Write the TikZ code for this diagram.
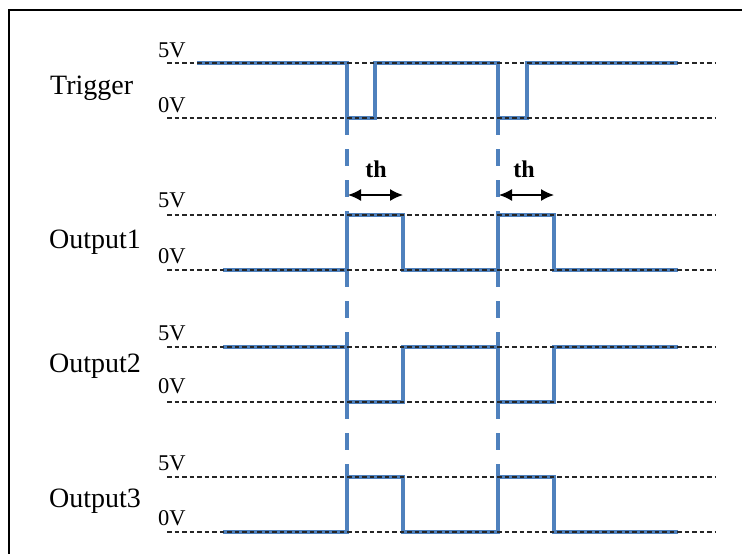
\documentclass[tikz,border=0pt]{standalone}
\usepackage{fontspec}
\setmainfont{Liberation Serif}
\usetikzlibrary{arrows.meta}
\definecolor{wave}{RGB}{79,129,189}
\begin{document}
\begin{tikzpicture}[x=1pt,y=-1pt,
 lvl/.style={black!85, line width=1.1pt, dash pattern=on 4.5pt off 3pt},
 sig/.style={wave, line width=3.2pt, line join=miter},
 guide/.style={wave, line width=3.2pt, dash pattern=on 17pt off 14pt},
 siglabel/.style={anchor=base west, inner sep=0pt, font=\fontsize{28}{30}\selectfont},
 volt/.style={anchor=base west, inner sep=0pt, font=\fontsize{22.5}{24}\selectfont},
 thl/.style={anchor=base, inner sep=0pt, font=\bfseries\fontsize{24}{26}\selectfont},
 spanarrow/.style={{Latex[length=13pt,width=12pt]}-{Latex[length=13pt,width=12pt]}, line width=1.5pt},
 borderline/.style={black, line width=1.8pt}]
\useasboundingbox (0,0) rectangle (742,554);
% frame
\coordinate (fbl) at (9,554);
\coordinate (ftl) at (9,10);
\coordinate (ftr) at (742,10);
\draw[borderline] (fbl) -- (ftl) -- (ftr);
% guides
\foreach \x in {347,498}{
  \draw[guide] (\x,118) -- (\x,215);
  \draw[guide] (\x,270) -- (\x,347);
  \draw[guide] (\x,402) -- (\x,477);
}
% waveforms
\draw[sig] (197,63) -- (347,63) -- (347,118) -- (375,118) -- (375,63) -- (498,63) -- (498,118) -- (527,118) -- (527,63) -- (678,63);
\draw[sig] (223,270) -- (347,270) -- (347,215) -- (403,215) -- (403,270) -- (498,270) -- (498,215) -- (554,215) -- (554,270) -- (678,270);
\draw[sig] (223,347) -- (347,347) -- (347,402) -- (403,402) -- (403,347) -- (498,347) -- (498,402) -- (554,402) -- (554,347) -- (678,347);
\draw[sig] (223,532) -- (347,532) -- (347,477) -- (403,477) -- (403,532) -- (498,532) -- (498,477) -- (554,477) -- (554,532) -- (678,532);
% level lines
\foreach \y in {63,118,215,270,347,402,477,532}{
  \draw[lvl] (167,\y) -- (715,\y);
}
% th arrows
\coordinate (a1) at (348,195); \coordinate (a2) at (403,195);
\coordinate (b1) at (499,195); \coordinate (b2) at (554,195);
\draw[spanarrow] (a1) -- (a2);
\draw[spanarrow] (b1) -- (b2);
\node[thl] (th1) at (376,177) {th};
\node[thl] (th2) at (524,177) {th};
% labels
\node[siglabel] (trig) at (50,94) {Trigger};
\node[siglabel] (out1) at (49,248) {Output1};
\node[siglabel] (out2) at (49,372) {Output2};
\node[siglabel] (out3) at (49,507) {Output3};
\node[volt] (t5) at (158,57) {5V};
\node[volt] (t0) at (158,112) {0V};
\node[volt] (o15) at (158,207) {5V};
\node[volt] (o10) at (158,263) {0V};
\node[volt] (o25) at (158,340) {5V};
\node[volt] (o20) at (158,393) {0V};
\node[volt] (o35) at (158,470) {5V};
\node[volt] (o30) at (158,525) {0V};
\end{tikzpicture}
\end{document}
